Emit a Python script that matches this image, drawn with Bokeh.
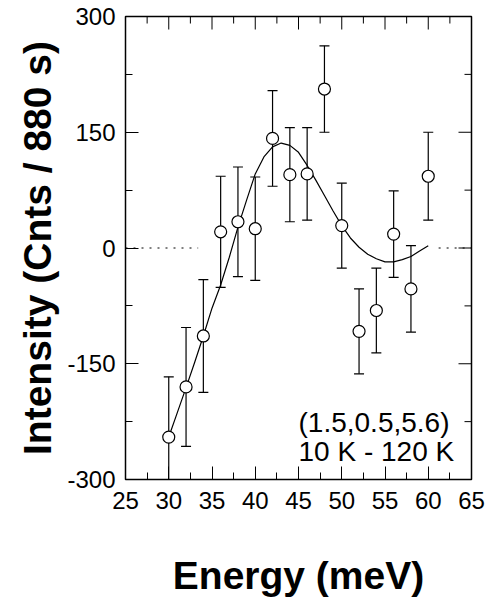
import math
from bokeh.plotting import figure
from bokeh.models import Range1d, FixedTicker, ColumnDataSource, Title
from bokeh.core.properties import value
from bokeh.embed import file_html
from bokeh.resources import INLINE

# data
energy = [30, 32, 34, 36, 38, 40, 42, 44, 46, 48, 50, 52, 54, 56, 58, 60]
intensity = [-245, -180, -114, 21, 34, 25, 142, 95, 96, 206, 29, -108, -81, 18, -53, 93]
error = [78, 77, 73, 72, 71, 67, 62, 61, 60, 56, 55, 55, 55, 56, 56, 57]

fit_energy = [30, 31, 32, 33, 34, 35, 36, 37, 38, 39, 40, 41, 42, 43, 44, 45,
              46, 47, 48, 49, 50, 51, 52, 53, 54, 55, 56, 57, 58, 59, 60]
fit_intensity = [-245, -213, -181, -148, -114, -78, -48, -12, 27, 62, 96, 118, 131, 136, 133, 124,
                 107, 88, 68, 48, 29, 13, 1, -8, -14, -18, -18, -15, -11, -4, 3]

x_ticks = [25, 30, 35, 40, 45, 50, 55, 60, 65]
x_minor = [27.5, 32.5, 37.5, 42.5, 47.5, 52.5, 57.5, 62.5]
y_ticks = [-300, -150, 0, 150, 300]
y_tick_labels = ["-300", "-150", "0", "150", "300"]
y_minor = [-225, -75, 75, 225]

label_lines = ["(1.5,0.5,5.6)", "10 K - 120 K"]
label_x = [45, 45]
label_y = [-225.5, -263.5]

x_title = "Energy (meV)"
y_title = "Intensity (Cnts / 880 s)"

FONT = "Liberation Sans"
X0, X1, Y0, Y1 = 25, 65, -300, 300

p = figure(width=486, height=600, output_backend="svg", toolbar_location=None,
           x_range=Range1d(X0, X1), y_range=Range1d(Y0, Y1),
           min_border_left=125, min_border_right=15, min_border_top=16, min_border_bottom=121)
p.grid.visible = False
p.outline_line_color = "black"
p.outline_line_width = 1.5
p.background_fill_color = "white"
p.border_fill_color = "white"

def style_axis(ax, ticks, minor):
    ax.ticker = FixedTicker(ticks=ticks, minor_ticks=minor)
    ax.axis_line_color = None
    ax.major_tick_in = 13
    ax.major_tick_out = 0
    ax.minor_tick_in = 7
    ax.minor_tick_out = 0
    ax.major_tick_line_color = "black"
    ax.minor_tick_line_color = "black"
    ax.major_tick_line_width = 1
    ax.minor_tick_line_width = 1
    ax.major_label_text_font = FONT
    ax.major_label_text_font_size = "24px"
    ax.major_label_text_color = "black"

xa = p.xaxis[0]
ya = p.yaxis[0]
style_axis(xa, x_ticks, x_minor)
style_axis(ya, y_ticks, y_minor)
ya.major_label_overrides = dict(zip(y_ticks, y_tick_labels))
xa.major_label_standoff = 12
ya.major_label_standoff = 10

xa.axis_label = x_title
xa.axis_label_text_font = FONT
xa.axis_label_text_font_style = "bold"
xa.axis_label_text_font_size = "39px"
xa.axis_label_text_color = "black"
xa.axis_label_standoff = 42

# y title as a side title, shifted up like the reference
p.add_layout(Title(text=y_title, align="center", offset=23, standoff=12,
                   text_font=FONT, text_font_style="bold", text_font_size="39px",
                   text_color="black"), "left")

# inward ticks on the top and right edges (outer half clipped by the frame)
p.scatter(x=x_ticks, y=[Y1] * len(x_ticks), marker="dash", angle=math.pi / 2, size=26,
          line_color="black", line_width=1)
p.scatter(x=x_minor, y=[Y1] * len(x_minor), marker="dash", angle=math.pi / 2, size=14,
          line_color="black", line_width=1)
p.scatter(x=[X1] * len(y_ticks), y=y_ticks, marker="dash", size=26,
          line_color="black", line_width=1)
p.scatter(x=[X1] * len(y_minor), y=y_minor, marker="dash", size=14,
          line_color="black", line_width=1)

# dotted zero line outside the fitted range
p.segment(x0=[25, 61.2], y0=[0, 0], x1=[33.4, 65], y1=[0, 0],
          line_color="black", line_width=1, line_dash="2 6")

# fit curve
p.line(fit_energy, fit_intensity, line_color="black", line_width=1.2)

# error bars
lower = [v - e for v, e in zip(intensity, error)]
upper = [v + e for v, e in zip(intensity, error)]
src = ColumnDataSource(dict(x=energy, y=intensity, lo=lower, hi=upper))
p.segment(x0="x", y0="lo", x1="x", y1="hi", source=src, line_color="black", line_width=1.2)
p.scatter(x="x", y="lo", source=src, marker="dash", size=10, line_color="black", line_width=1.2)
p.scatter(x="x", y="hi", source=src, marker="dash", size=10, line_color="black", line_width=1.2)

# data points
p.scatter(x="x", y="y", source=src, marker="circle", size=12,
          fill_color="white", line_color="black", line_width=1.2)

p.text(x=label_x, y=label_y, text=label_lines, text_font=value(FONT),
       text_font_size="28px", text_color="black", text_baseline="alphabetic", text_align="left")

open("out.html", "w").write(file_html(p, INLINE))
